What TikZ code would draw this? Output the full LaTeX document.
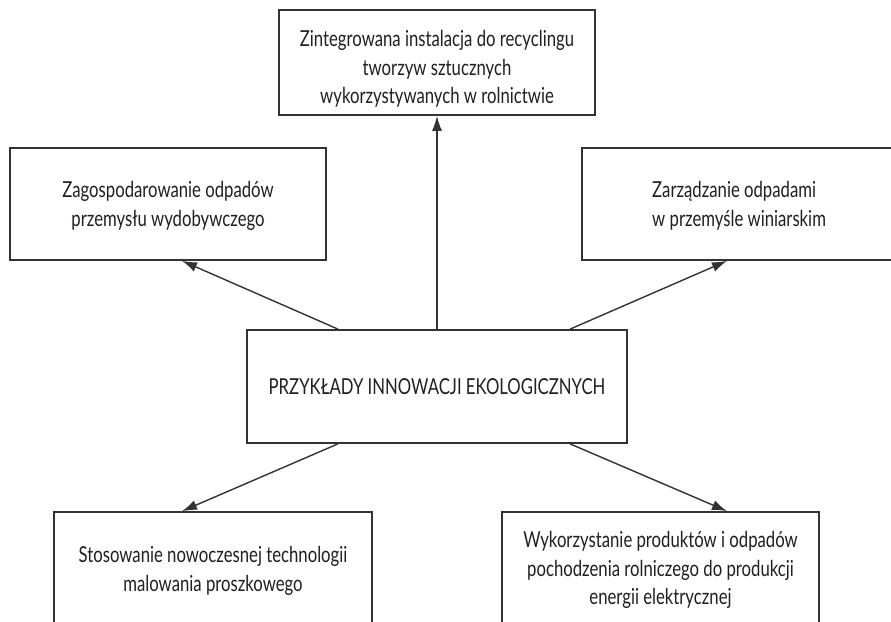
\documentclass[tikz,border=0pt]{standalone}
\usepackage{fontspec}
\setmainfont[FakeStretch=0.76]{Lato}
\usetikzlibrary{arrows.meta,calc}
\definecolor{linegray}{HTML}{333333}
\definecolor{textblack}{HTML}{231F20}
\begin{document}
\begin{tikzpicture}[x=1pt,y=-1pt,
  box/.style={draw=linegray,line width=1.7pt,fill=white,rectangle,inner sep=0pt,
    font=\fontsize{22}{28.5}\selectfont,text=textblack,align=center},
  txt/.style={font=\fontsize{22}{28.5}\selectfont,text=textblack,inner sep=0pt},
  conn/.style={draw=linegray,line width=1.4pt,-{Latex[length=15pt,width=10pt]}}]
\clip (0,0) rectangle (891,621);
\fill[white] (0,0) rectangle (891,621);
% boxes
\node[box,minimum width=316pt,minimum height=105pt] (top) at (437,62.5) {};
\node[txt,align=center] (toptext) at (437,69)
  {Zintegrowana instalacja do recyclingu\\tworzyw sztucznych\\wykorzystywanych w rolnictwie};
\node[box,minimum width=316pt,minimum height=112pt] (left) at (168,204) {};
\node[txt,align=center] (lefttext) at (168,206)
  {Zagospodarowanie odpadów\\przemysłu wydobywczego};
\node[box,minimum width=316pt,minimum height=112pt] (right) at (740,204) {};
\node[txt,align=left,anchor=west] (righttext) at (652,206)
  {Zarządzanie odpadami\\w przemyśle winiarskim};
\node[box,minimum width=380pt,minimum height=113pt] (c) at (437,386.5)
  {PRZYKŁADY INNOWACJI EKOLOGICZNYCH};
\node[box,minimum width=318pt,minimum height=112pt] (bl) at (213,568) {};
\node[txt,align=center] (bltext) at (213,571)
  {Stosowanie nowoczesnej technologii\\malowania proszkowego};
\node[box,minimum width=317pt,minimum height=112pt] (br) at (660.5,568) {};
\node[txt,align=center] (brtext) at (660.5,570)
  {Wykorzystanie produktów i odpadów\\pochodzenia rolniczego do produkcji\\energii elektrycznej};
% connectors
\draw[conn] ([xshift=-99pt]c.north) -- ([xshift=14pt]left.south);
\draw[conn] (c.north) -- (top.south);
\draw[conn] ([xshift=133pt]c.north) -- ([xshift=-13pt]right.south);
\draw[conn] ([xshift=-99pt]c.south) -- ([xshift=-31pt]bl.north);
\draw[conn] ([xshift=133pt]c.south) -- ([xshift=66.5pt]br.north);
\end{tikzpicture}
\end{document}
